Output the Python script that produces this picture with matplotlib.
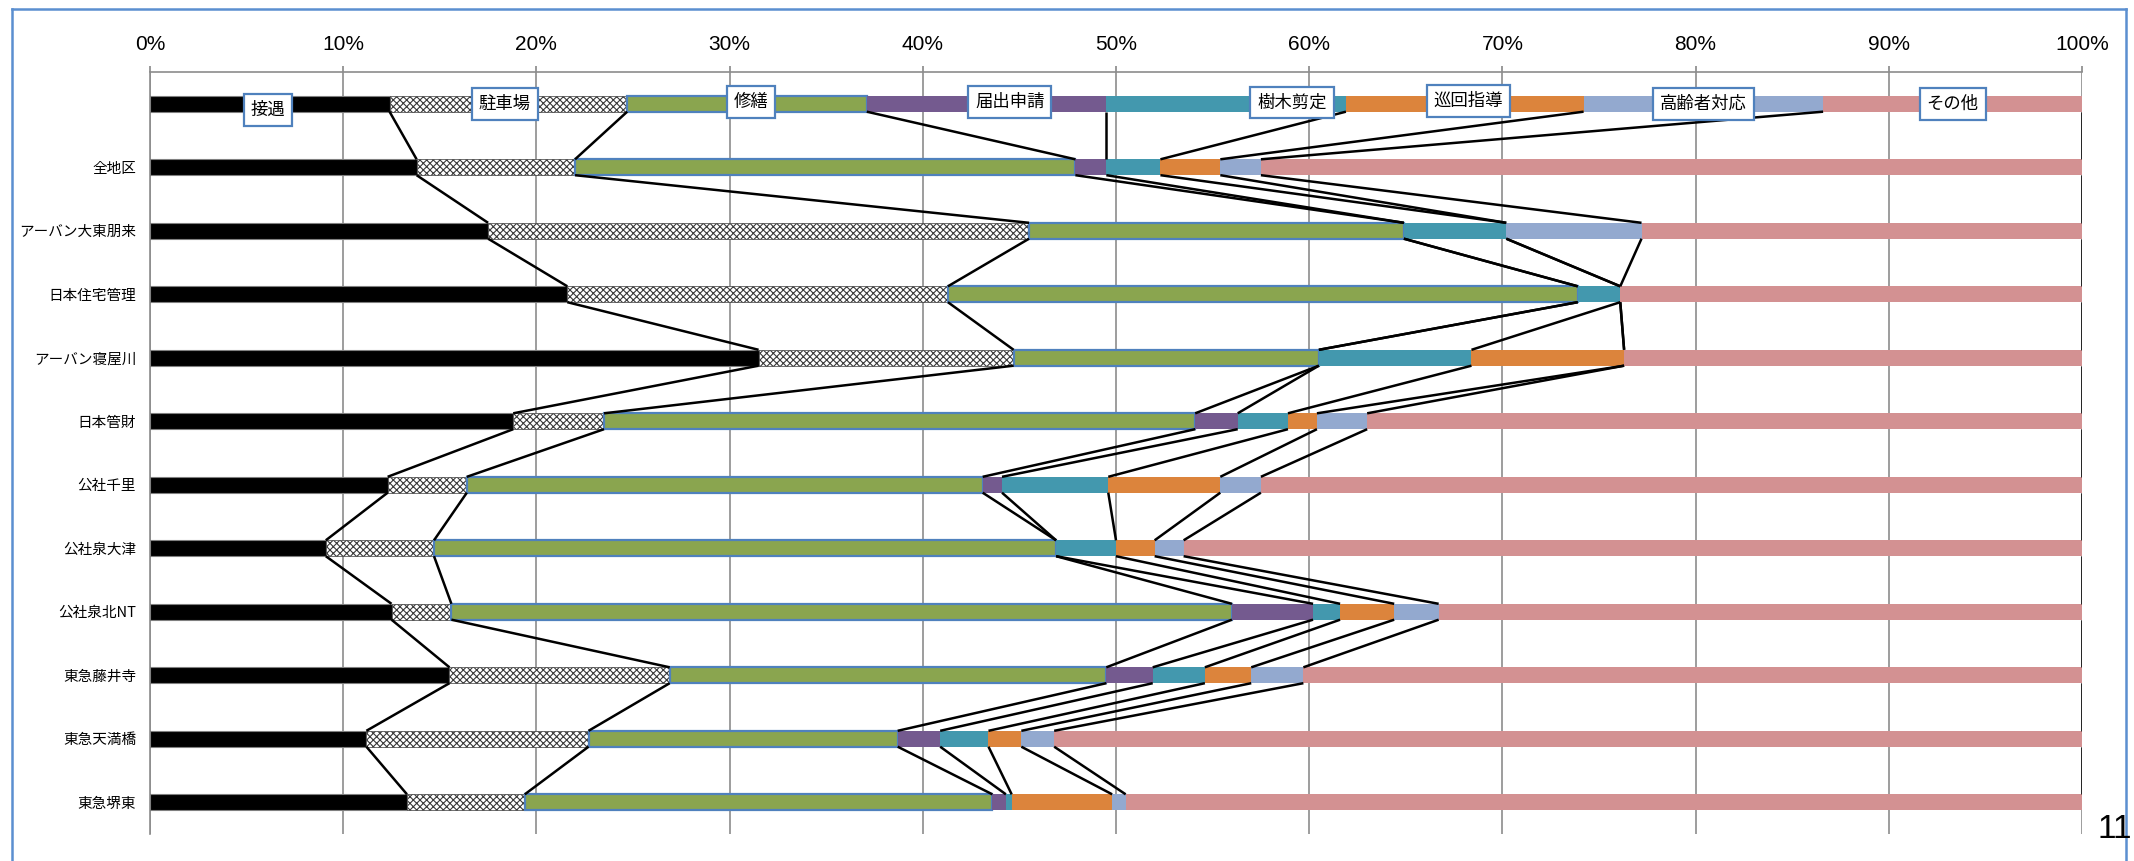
import matplotlib
matplotlib.use("Agg")
import matplotlib.pyplot as plt
from matplotlib.lines import Line2D
from matplotlib.ticker import FuncFormatter
import numpy as np

plt.rcParams['font.family'] = ['Noto Sans CJK JP', 'DejaVu Sans']
plt.rcParams['hatch.linewidth'] = 0.8

# rows, top to bottom (the first row is the unlabeled legend row)
rows = ["", "全地区", "アーバン大東朋来", "日本住宅管理", "アーバン寝屋川", "日本管財",
        "公社千里", "公社泉大津", "公社泉北NT", "東急藤井寺", "東急天満橋", "東急堺東"]

series_names = ["接遇", "駐車場", "修繕", "届出申請", "樹木剪定", "巡回指導", "高齢者対応", "その他"]

# share of each category (%) per row
setsugu   = [12.4, 13.8, 17.5, 21.6, 31.5, 18.8, 12.3,  9.1, 12.5, 15.5, 11.2, 13.3]
chushajo  = [12.3,  8.2, 28.0, 19.7, 13.2,  4.7,  4.1,  5.6,  3.1, 11.4, 11.5,  6.1]
shuzen    = [12.4, 25.9, 19.4, 32.6, 15.8, 30.6, 26.7, 32.2, 40.4, 22.6, 16.0, 24.2]
todokede  = [12.4,  1.6,  0.0,  0.0,  0.0,  2.2,  1.0,  0.0,  4.2,  2.4,  2.2,  0.7]
jumoku    = [12.4,  2.8,  5.3,  2.2,  7.9,  2.6,  5.5,  3.1,  1.4,  2.7,  2.5,  0.3]
junkai    = [12.3,  3.1,  0.0,  0.0,  7.9,  1.5,  5.8,  2.0,  2.8,  2.4,  1.7,  5.2]
koreisha  = [12.4,  2.1,  7.0,  0.0,  0.0,  2.6,  2.1,  1.5,  2.3,  2.7,  1.7,  0.7]
sonota    = [13.4, 42.5, 22.8, 23.9, 23.7, 37.0, 42.5, 46.5, 33.3, 40.3, 53.2, 49.5]

series_values = [setsugu, chushajo, shuzen, todokede, jumoku, junkai, koreisha, sonota]

styles = [
    dict(color='black', edgecolor='#808080', linewidth=0.8),
    dict(color='white', edgecolor='#3a3a3a', hatch='xxxxx', linewidth=0.5),
    dict(color='#8AA54F', edgecolor='#4F81BD', linewidth=1.6),
    dict(color='#745A8F', linewidth=0),
    dict(color='#4398AE', linewidth=0),
    dict(color='#DC843C', linewidth=0),
    dict(color='#93A9CF', linewidth=0),
    dict(color='#D39192', linewidth=0),
]
# label box offsets on the legend row (x in %, y in rows)
label_dx = [-0.1, -0.2, 0.2, 1.2, 3.4, 0.2, 0.0, 0.0]
label_dy = [0.10, 0.0, -0.03, -0.03, -0.02, -0.05, 0.0, 0.0]

narrow = ['Liberation Sans Narrow', 'DejaVu Sans Condensed', 'Liberation Sans', 'DejaVu Sans']

fig = plt.figure(figsize=(21.34, 8.61), dpi=100)
ax = fig.add_axes([150 / 2134, 1 - 834 / 861, (2082 - 150) / 2134, (834 - 72) / 861])

y = np.arange(len(rows))
h = 0.25
left = np.zeros(len(rows))
bounds = []
for vals, st in zip(series_values, styles):
    vals = np.array(vals)
    ax.barh(y, vals, left=left, height=h, zorder=3, **st)
    left = left + vals
    bounds.append(left.copy())

# series lines between consecutive bars
for b in bounds:
    for i in range(len(rows) - 1):
        ax.plot([b[i], b[i + 1]], [y[i] + h / 2, y[i + 1] - h / 2],
                color='black', lw=1.8, zorder=4, solid_capstyle='butt')

# category label boxes on the top row
starts = [0.0] + [b[0] for b in bounds[:-1]]
for k, name in enumerate(series_names):
    cx = (starts[k] + bounds[k][0]) / 2 + label_dx[k]
    ax.text(cx, y[0] + label_dy[k], name, ha='center', va='center', fontsize=12.5,
            zorder=6, bbox=dict(boxstyle='square,pad=0.4', fc='white', ec='#4F81BD', lw=1.6))

ax.set_xlim(0, 100)
ax.set_ylim(len(rows) - 0.5, -0.5)
ax.set_yticks(y)
ax.set_yticklabels(rows, fontsize=10.5)
ax.tick_params(axis='y', length=0, pad=10)

ax.xaxis.tick_top()
ax.set_xticks(np.arange(0, 101, 10))
ax.xaxis.set_major_formatter(FuncFormatter(lambda v, p: f"{v:.0f}%"))
ax.tick_params(axis='x', length=4, width=1.2, color='#888888', pad=9)
for lab in ax.get_xticklabels():
    lab.set_family(narrow)
    lab.set_fontsize(15)

ax.grid(axis='x', color='#8c8c8c', lw=1.2, zorder=0)
ax.set_axisbelow(True)
for s in ['right', 'bottom']:
    ax.spines[s].set_visible(False)
for s in ['top', 'left']:
    ax.spines[s].set_color('#8c8c8c')
    ax.spines[s].set_linewidth(1.2)

# chart frame
fc = '#5B8FD0'
fig.add_artist(Line2D([12 / 2134, 12 / 2134], [0, 1 - 9 / 861], color=fc, lw=1.8))
fig.add_artist(Line2D([12 / 2134, 2126 / 2134], [1 - 9 / 861, 1 - 9 / 861], color=fc, lw=1.8))
fig.add_artist(Line2D([2126 / 2134, 2126 / 2134], [0, 1 - 9 / 861], color=fc, lw=1.8))

fig.text(2097 / 2134, 1 - 829 / 861, "11", ha='left', va='center', fontsize=24, family=narrow)

fig.savefig("out.png", dpi=100)
